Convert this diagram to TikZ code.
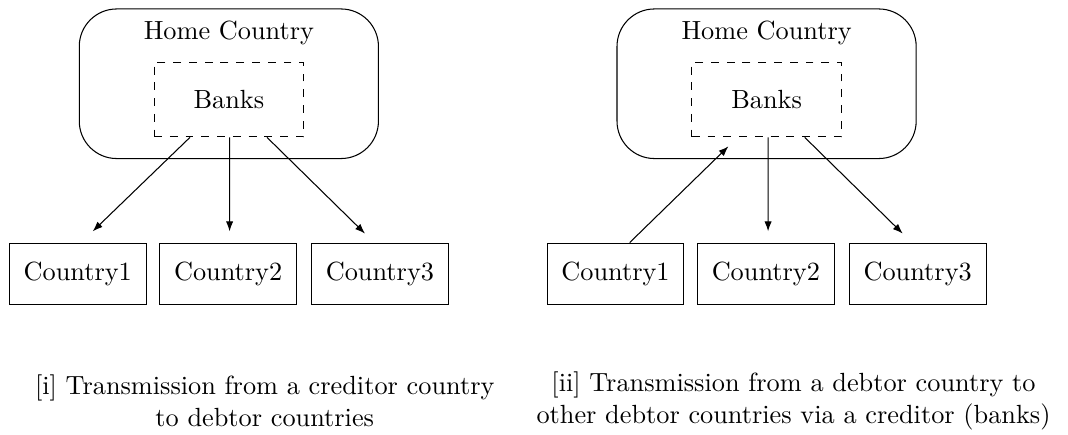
\documentclass[tikz,border=0pt]{standalone}
\usepackage{amsmath}
\usepackage{xcolor}
\usetikzlibrary{arrows.meta}

\begin{document}
\begin{tikzpicture}
\tikzstyle{region}=[draw, rounded corners=0.5cm, minimum width=4cm, minimum height=2cm]
\tikzstyle{bankbox}=[draw, dashed, minimum width=2cm, minimum height=1cm]
\tikzstyle{country}=[draw, minimum width=1.83cm, minimum height=0.82cm]
\tikzstyle{arr}=[-{Latex[length=3.8pt,width=2.8pt]}]
\useasboundingbox (0,0) rectangle (14.28,-5.815);
% left: creditor country
\node [region] (homeL) at (3.06,-1.12) {};
\node [anchor=north] (hcL) at ([yshift=-0.04cm]homeL.north) {Home Country};
\node [bankbox] (bankL) at (3.06,-1.33) {Banks};
\node [country] (c1L) at (1.04,-3.66) {Country1};
\node [country] (c2L) at (3.05,-3.66) {Country2};
\node [country] (c3L) at (5.08,-3.66) {Country3};
\draw [arr] ([xshift=-0.52cm]bankL.south) -- ([xshift=0.2cm,yshift=0.15cm]c1L.north);
\draw [arr] ([xshift=0.01cm]bankL.south) -- ([xshift=0.02cm,yshift=0.15cm]c2L.north);
\draw [arr] ([xshift=0.51cm]bankL.south) -- ([xshift=-0.2cm,yshift=0.12cm]c3L.north);
\node [align=center] (capL) at (3.54,-5.36) {[i] Transmission from a creditor country\\to debtor countries};
% right: debtor country
\node [region] (homeR) at (10.25,-1.12) {};
\node [anchor=north] (hcR) at ([yshift=-0.04cm]homeR.north) {Home Country};
\node [bankbox] (bankR) at (10.25,-1.33) {Banks};
\node [country] (c1R) at (8.23,-3.66) {Country1};
\node [country] (c2R) at (10.24,-3.66) {Country2};
\node [country] (c3R) at (12.27,-3.66) {Country3};
\draw [arr] ([xshift=0.19cm]c1R.north) -- ([xshift=-0.51cm,yshift=-0.12cm]bankR.south);
\draw [arr] ([xshift=0.02cm]bankR.south) -- ([xshift=0.03cm,yshift=0.15cm]c2R.north);
\draw [arr] ([xshift=0.51cm]bankR.south) -- ([xshift=-0.2cm,yshift=0.12cm]c3R.north);
\node [align=center] (capR) at (10.61,-5.36) {[ii] Transmission from a debtor country to\\other debtor countries via a creditor (banks)};
\end{tikzpicture}
\end{document}
